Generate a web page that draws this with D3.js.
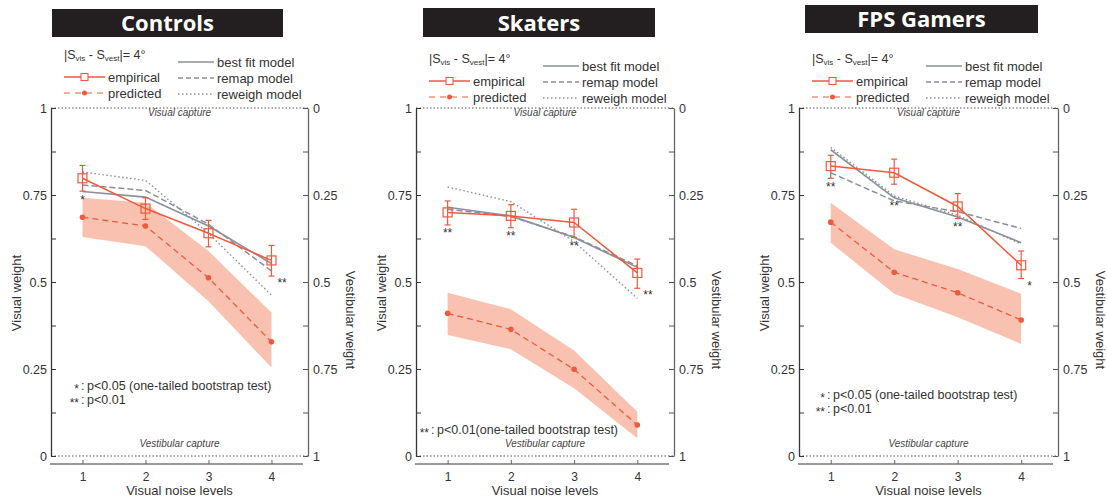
<!DOCTYPE html>
<html>
<head>
<meta charset="utf-8">
<script src="https://cdn.jsdelivr.net/npm/d3@7"></script>
<style>
  body { margin: 0; background: #fff; }
  text { font-family: "Liberation Sans", Arial, sans-serif; }
</style>
</head>
<body>
<script>
// noise levels on the x axis
const levels = [1, 2, 3, 4]
const yTicks = [0, 0.125, 0.25, 0.375, 0.5, 0.625, 0.75, 0.875, 1]
const yLabels = [0, 0.25, 0.5, 0.75, 1]

// Controls
const empControls = [0.798, 0.711, 0.640, 0.562]
const empLoControls = [0.761, 0.680, 0.601, 0.517]
const empHiControls = [0.835, 0.742, 0.677, 0.605]
const predControls = [0.686, 0.661, 0.512, 0.328]
const predLoControls = [0.629, 0.603, 0.445, 0.254]
const predHiControls = [0.742, 0.728, 0.589, 0.412]
const bestControls = [0.760, 0.744, 0.661, 0.553]
const remapControls = [0.779, 0.763, 0.666, 0.532]
const reweighControls = [0.816, 0.792, 0.640, 0.462]
const sigControls = ['*', '', '', '**']

// Skaters
const empSkaters = [0.700, 0.690, 0.671, 0.526]
const empLoSkaters = [0.664, 0.656, 0.628, 0.482]
const empHiSkaters = [0.733, 0.722, 0.709, 0.566]
const predSkaters = [0.410, 0.364, 0.249, 0.089]
const predLoSkaters = [0.348, 0.307, 0.195, 0.051]
const predHiSkaters = [0.469, 0.422, 0.303, 0.127]
const bestSkaters = [0.715, 0.690, 0.628, 0.542]
const remapSkaters = [0.709, 0.688, 0.630, 0.546]
const reweighSkaters = [0.773, 0.731, 0.616, 0.453]
const sigSkaters = ['**', '**', '**', '**']

// FPS gamers
const empGamers = [0.833, 0.814, 0.717, 0.548]
const empLoGamers = [0.798, 0.781, 0.682, 0.510]
const empHiGamers = [0.864, 0.853, 0.754, 0.589]
const predGamers = [0.672, 0.528, 0.469, 0.391]
const predLoGamers = [0.613, 0.466, 0.399, 0.322]
const predHiGamers = [0.728, 0.594, 0.537, 0.466]
const bestGamers = [0.880, 0.742, 0.687, 0.613]
const remapGamers = [0.814, 0.733, 0.702, 0.654]
const reweighGamers = [0.887, 0.747, 0.692, 0.609]
const sigGamers = ['**', '**', '**', '*']

const notesOneTwo = [['*', 'p<0.05 (one-tailed bootstrap test)'], ['**', 'p<0.01']]
const notesSkaters = [['**', 'p<0.01(one-tailed bootstrap test)']]

const RED = '#ef5a3d'
const BAND = '#f9c2b0'
const GRAY = '#8b8f98'

const panels = [
  {title: 'Controls', left: 51, right: 308, box: [52, 9, 231, 28], legDy: 0, noteX: 36, noteY: 385,
    emp: empControls, lo: empLoControls, hi: empHiControls, pred: predControls, pLo: predLoControls, pHi: predHiControls,
    best: bestControls, remap: remapControls, reweigh: reweighControls, sig: sigControls, notes: notesOneTwo},
  {title: 'Skaters', left: 416, right: 674, box: [423, 8, 232, 29], legDy: 4, noteX: 21, noteY: 429,
    emp: empSkaters, lo: empLoSkaters, hi: empHiSkaters, pred: predSkaters, pLo: predLoSkaters, pHi: predHiSkaters,
    best: bestSkaters, remap: remapSkaters, reweigh: reweighSkaters, sig: sigSkaters, notes: notesSkaters},
  {title: 'FPS Gamers', left: 799, right: 1058, box: [805, 5, 233, 28], legDy: 4, noteX: 34, noteY: 394,
    emp: empGamers, lo: empLoGamers, hi: empHiGamers, pred: predGamers, pLo: predLoGamers, pHi: predHiGamers,
    best: bestGamers, remap: remapGamers, reweigh: reweighGamers, sig: sigGamers, notes: notesOneTwo}
]

const TOP = 108, BOTTOM = 456, XAXIS_Y = 464

const svg = d3.select('body').append('svg')
  .attr('width', 1107).attr('height', 497)

panels.forEach(p => drawPanel(svg.append('g'), p))

function drawPanel(g, p){
  const x = d3.scaleLinear().domain([0.5, 4.58]).range([p.left, p.right])
  const y = d3.scaleLinear().domain([0, 1]).range([BOTTOM, TOP])
  const yVest = d3.scaleLinear().domain([0, 1]).range([TOP, BOTTOM])
  const mid = (p.left + p.right) / 2

  // title box
  g.append('rect')
    .attr('x', p.box[0]).attr('y', p.box[1])
    .attr('width', p.box[2]).attr('height', p.box[3])
    .attr('fill', '#231f20')
  g.append('text')
    .attr('x', p.box[0] + p.box[2] / 2).attr('y', p.box[1] + p.box[3] / 2 + 8)
    .attr('text-anchor', 'middle')
    .style('font-family', '"Open Sans", sans-serif')
    .attr('font-weight', 'bold').attr('font-size', 22)
    .attr('fill', '#fff')
    .text(p.title)

  // capture lines
  ;[1, 0].forEach(v => {
    g.append('line')
      .attr('x1', p.left).attr('x2', p.right)
      .attr('y1', y(v)).attr('y2', y(v))
      .attr('stroke', '#555').attr('stroke-width', 1)
      .attr('stroke-dasharray', '1.5,2')
  })
  g.append('text').attr('x', mid).attr('y', y(1) + 8)
    .attr('text-anchor', 'middle').attr('font-size', 10).attr('font-style', 'italic')
    .attr('fill', '#444').text('Visual capture')
  g.append('text').attr('x', mid).attr('y', y(0) - 9)
    .attr('text-anchor', 'middle').attr('font-size', 10).attr('font-style', 'italic')
    .attr('fill', '#444').text('Vestibular capture')

  // axes
  const fmt = d => yLabels.includes(d) ? String(d) : ''
  const left = g.append('g').attr('transform', `translate(${p.left},0)`)
    .call(d3.axisLeft(y).tickValues(yTicks).tickFormat(fmt).tickSizeInner(-5).tickSizeOuter(0).tickPadding(4))
  left.select('.domain').attr('stroke', '#3a3435').attr('stroke-width', 1.3)
  left.selectAll('.tick line').attr('stroke', '#3a3435')

  const right = g.append('g').attr('transform', `translate(${p.right},0)`)
    .call(d3.axisRight(yVest).tickValues(yTicks).tickFormat(fmt).tickSizeInner(-5).tickSizeOuter(0).tickPadding(5))
  right.select('.domain').attr('stroke', '#666').attr('stroke-width', 1.3)
  right.selectAll('.tick line').attr('stroke', '#555')

  ;[left, right].forEach(a => a.selectAll('.tick text')
    .attr('font-size', 12.5).attr('fill', '#333')
    .style('font-family', '"Liberation Sans", Arial, sans-serif'))

  const bottom = g.append('g').attr('transform', `translate(0,${XAXIS_Y})`)
    .call(d3.axisBottom(x).tickValues(levels).tickFormat(d3.format('d'))
      .tickSizeInner(-4).tickSizeOuter(0).tickPadding(8))
  bottom.select('.domain').attr('d', `M${p.left - 1},0H${p.right - 5}`)
    .attr('stroke', '#777').attr('stroke-width', 1.6)
  bottom.selectAll('.tick line').attr('stroke', '#666')
  bottom.selectAll('.tick text').attr('font-size', 12).attr('fill', '#333')
    .style('font-family', '"Liberation Sans", Arial, sans-serif')

  g.append('text').attr('x', mid).attr('y', 495)
    .attr('text-anchor', 'middle').attr('font-size', 13).attr('fill', '#333')
    .text('Visual noise levels')
  g.append('text')
    .attr('transform', `translate(${p.left - 30},293) rotate(-90)`)
    .attr('text-anchor', 'middle').attr('font-size', 13).attr('fill', '#333')
    .text('Visual weight')
  g.append('text')
    .attr('transform', `translate(${p.right + 38},320) rotate(90)`)
    .attr('text-anchor', 'middle').attr('font-size', 13).attr('fill', '#333')
    .text('Vestibular weight')

  // predicted band
  const area = d3.area()
    .x((d, i) => x(levels[i]))
    .y0((d, i) => y(p.pLo[i]))
    .y1((d, i) => y(p.pHi[i]))
  g.append('path').datum(levels).attr('d', area).attr('fill', BAND)

  const line = vals => d3.line().x((d, i) => x(levels[i])).y((d, i) => y(vals[i]))(levels)

  // model fits
  g.append('path').attr('d', line(p.reweigh)).attr('fill', 'none')
    .attr('stroke', GRAY).attr('stroke-width', 1.4).attr('stroke-dasharray', '1.5,2.5')
  g.append('path').attr('d', line(p.remap)).attr('fill', 'none')
    .attr('stroke', GRAY).attr('stroke-width', 1.5).attr('stroke-dasharray', '6,3')
  g.append('path').attr('d', line(p.best)).attr('fill', 'none')
    .attr('stroke', GRAY).attr('stroke-width', 1.6)

  // predicted
  g.append('path').attr('d', line(p.pred)).attr('fill', 'none')
    .attr('stroke', RED).attr('stroke-width', 1.3).attr('stroke-dasharray', '6,4')
  g.selectAll('circle.pred').data(p.pred).enter().append('circle')
    .attr('class', 'pred')
    .attr('cx', (d, i) => x(levels[i])).attr('cy', d => y(d))
    .attr('r', 2.8).attr('fill', RED)

  // empirical with error bars
  g.append('path').attr('d', line(p.emp)).attr('fill', 'none')
    .attr('stroke', RED).attr('stroke-width', 1.5)
  const eb = g.selectAll('g.err').data(levels).enter().append('g').attr('class', 'err')
  eb.append('line')
    .attr('x1', d => x(d)).attr('x2', d => x(d))
    .attr('y1', (d, i) => y(p.lo[i])).attr('y2', (d, i) => y(p.hi[i]))
    .attr('stroke', RED).attr('stroke-width', 1.2)
  ;['lo', 'hi'].forEach(k => {
    eb.append('line')
      .attr('x1', d => x(d) - 3).attr('x2', d => x(d) + 3)
      .attr('y1', (d, i) => y(p[k][i])).attr('y2', (d, i) => y(p[k][i]))
      .attr('stroke', RED).attr('stroke-width', 1.2)
  })
  eb.append('rect')
    .attr('x', d => x(d) - 4.5).attr('y', (d, i) => y(p.emp[i]) - 4.5)
    .attr('width', 9).attr('height', 9)
    .attr('fill', 'none').attr('stroke', RED).attr('stroke-width', 1.2)

  // significance stars
  g.selectAll('text.sig').data(p.sig).enter().append('text')
    .attr('class', 'sig')
    .attr('x', (d, i) => i === 3 ? x(levels[i]) + 6 : x(levels[i]))
    .attr('y', (d, i) => i === 3
      ? y(p.lo[i] - 0.012) + 7
      : y(Math.min(p.lo[i], p.best[i]) - 0.015) + 7)
    .attr('text-anchor', (d, i) => i === 3 ? 'start' : 'middle')
    .attr('font-size', 12).attr('fill', '#333')
    .text(d => d)

  // footnotes
  p.notes.forEach((n, k) => {
    const ty = p.noteY + k * 14
    const tx = p.left + p.noteX
    g.append('text').attr('x', tx - 8).attr('y', ty + 8).attr('text-anchor', 'end')
      .attr('font-size', 12).attr('fill', '#333').text(n[0])
    g.append('text').attr('x', tx - 6).attr('y', ty + 4.5)
      .attr('font-size', 12.5).attr('fill', '#333').text(':')
    g.append('text').attr('x', tx).attr('y', ty + 4.5)
      .attr('font-size', 12.5).attr('fill', '#333').text(n[1])
  })

  // legend
  const lx = p.left + 13, ly = p.legDy
  const s = g.append('text').attr('x', lx).attr('y', 59 + ly)
    .attr('font-size', 12.5).attr('fill', '#333')
  s.append('tspan').text('|S')
  s.append('tspan').attr('font-size', 8).attr('dy', 2).text('vis')
  s.append('tspan').attr('dy', -2).text(' - S')
  s.append('tspan').attr('font-size', 8).attr('dy', 2).text('vest')
  s.append('tspan').attr('dy', -2).text('|= 4°')

  // empirical / predicted keys
  g.append('line').attr('x1', lx).attr('x2', lx + 41).attr('y1', 77 + ly).attr('y2', 77 + ly)
    .attr('stroke', RED).attr('stroke-width', 1.3)
  g.append('rect').attr('x', lx + 17).attr('y', 73.5 + ly).attr('width', 7).attr('height', 7)
    .attr('fill', '#fff').attr('stroke', RED).attr('stroke-width', 1.1)
  g.append('line').attr('x1', lx).attr('x2', lx + 41).attr('y1', 93 + ly).attr('y2', 93 + ly)
    .attr('stroke', RED).attr('stroke-width', 1.2).attr('stroke-dasharray', '6,5')
  g.append('circle').attr('cx', lx + 20.5).attr('cy', 93 + ly).attr('r', 2.5).attr('fill', RED)
  g.append('text').attr('x', lx + 44).attr('y', 81.5 + ly).attr('font-size', 13).attr('fill', '#333').text('empirical')
  g.append('text').attr('x', lx + 44).attr('y', 97.5 + ly).attr('font-size', 13).attr('fill', '#333').text('predicted')

  // model keys
  const mx = p.left + 127
  const keys = [['best fit model', null], ['remap model', '5,3'], ['reweigh model', '1.5,2.5']]
  keys.forEach((k, i) => {
    const ky = 62 + ly + i * 16
    g.append('line').attr('x1', mx).attr('x2', mx + 36).attr('y1', ky).attr('y2', ky)
      .attr('stroke', GRAY).attr('stroke-width', 1.4)
      .attr('stroke-dasharray', k[1])
    g.append('text').attr('x', mx + 39).attr('y', ky + 4.5)
      .attr('font-size', 13).attr('fill', '#333').text(k[0])
  })
}
</script>
</body>
</html>
